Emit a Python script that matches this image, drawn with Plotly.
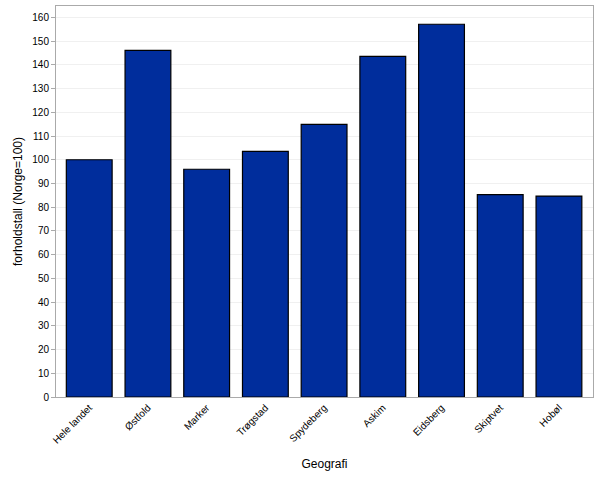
import plotly.graph_objects as go

categories = ["Hele landet", "Østfold", "Marker", "Trøgstad", "Spydeberg", "Askim", "Eidsberg", "Skiptvet", "Hobøl"]
values = [100.0, 146.1, 96.0, 103.5, 114.9, 143.6, 157.1, 85.3, 84.7]
y_ticks = list(range(0, 161, 10))

fig = go.Figure(go.Bar(
    x=categories, y=values,
    marker=dict(color="#002d9c", line=dict(color="black", width=1.2)),
    width=0.78,
))

font = "Liberation Sans, Arial, sans-serif"
fig.update_layout(
    width=600, height=478,
    margin=dict(l=56, r=7, t=6, b=81),
    paper_bgcolor="white", plot_bgcolor="white",
    font=dict(family=font, color="black"),
    showlegend=False,
    xaxis=dict(
        range=[-0.566, 8.58],
        tickangle=-45, tickfont=dict(size=10, color="black"),
        showline=True, linecolor="#aaaaaa", linewidth=1, mirror=True,
        ticks="", showgrid=False,
        title=dict(text="Geografi", font=dict(size=12), standoff=14),
    ),
    yaxis=dict(
        range=[0, 164.8],
        tickvals=y_ticks, tickfont=dict(size=10, color="black"),
        showline=True, linecolor="#aaaaaa", linewidth=1, mirror=True,
        ticks="outside", ticklen=4, tickcolor="#aaaaaa",
        showgrid=True, gridcolor="#f0f0f0", gridwidth=1,
        zeroline=False,
        title=dict(text="forholdstall (Norge=100)", font=dict(size=12), standoff=7),
    ),
)

fig.write_html("out.html")
